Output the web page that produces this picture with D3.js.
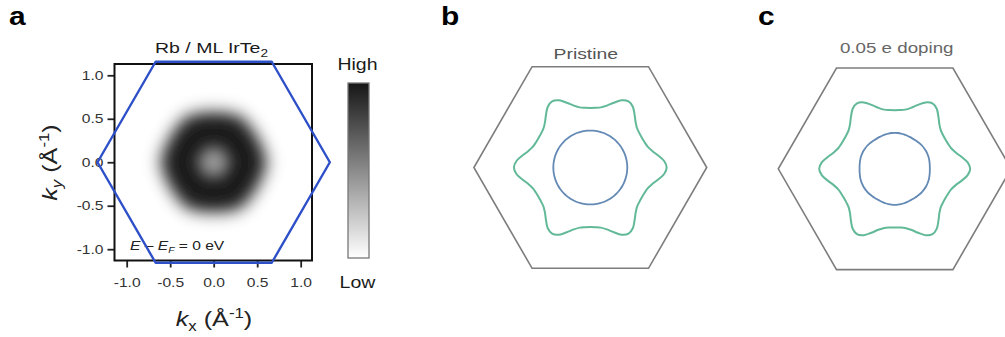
<!DOCTYPE html>
<html>
<head>
<meta charset="utf-8">
<script src="https://cdn.jsdelivr.net/npm/d3@7"></script>
<style>
  body { margin: 0; background: #fff; }
  svg { display: block; }
</style>
</head>
<body>
<svg id="fig"></svg>
<script>
// ---- data ----
const tickValues = [-1.0, -0.5, 0.0, 0.5, 1.0];

// Brillouin zone hexagon (vertex momentum, 1/Å) and vertex angles
const bzVertex = 1.335;
const bzAngles = [0, 60, 120, 180, 240, 300];

// panel a: radial intensity profile of the ARPES map (outer -> inner)
const mapRadius    = [0.78, 0.73, 0.68, 0.63, 0.58, 0.53, 0.48, 0.43, 0.38, 0.33, 0.28, 0.23, 0.18, 0.13, 0.08];
const mapIntensity = [0.02, 0.08, 0.24, 0.50, 0.74, 0.88, 0.95, 0.97, 0.98, 0.97, 0.93, 0.84, 0.70, 0.56, 0.46];
const mapEdgeRatio = 0.965;   // rounded-hexagon: mid-edge / vertex radius

// colour bar
const colorStops = [0, 0.25, 0.5, 0.75, 1];

// panels b, c: Fermi contour radius (1/Å) vs angle from Γ-K, one 30° sector
const sectorAngles  = [0, 5, 10, 15, 20, 25, 30];
const pristineOuter = [0.876, 0.850, 0.790, 0.735, 0.700, 0.687, 0.683];
const pristineInner = [0.424, 0.424, 0.424, 0.424, 0.424, 0.424, 0.424];
const dopedOuter    = [0.866, 0.840, 0.780, 0.724, 0.689, 0.676, 0.672];
const dopedInner    = [0.403, 0.404, 0.406, 0.409, 0.411, 0.412, 0.413];

(() => {
    const width = 1005;
    const height = 337;
    const pxPerK = 87.2;
    const stretch = 1.25;
    const font = "'Liberation Sans', Arial, Helvetica, sans-serif";

    const svg = d3.select("#fig")
        .attr("width", width)
        .attr("height", height);

    svg.append("rect")
        .attr("width", width)
        .attr("height", height)
        .attr("fill", "#fff");

    const defs = svg.append("defs");

    // text is drawn a bit wider than the font, as in the original figure
    function addText(x, y, opts) {
        const o = Object.assign({ size: 14, anchor: "middle", fill: "#222", weight: "normal", rotate: 0, sx: stretch }, opts);
        return svg.append("text")
            .attr("transform", `translate(${x},${y}) rotate(${o.rotate}) scale(${o.sx},1)`)
            .attr("text-anchor", o.anchor)
            .attr("font-family", font)
            .attr("font-size", o.size)
            .attr("font-weight", o.weight)
            .attr("fill", o.fill);
    }

    const toXY = (deg, r) => [r * Math.cos(deg * Math.PI / 180), r * Math.sin(deg * Math.PI / 180)];

    // expand a 30° sector to the full six-fold contour
    function fullContour(radii) {
        const pts = [];
        for (let s = 0; s < 6; s++) {
            sectorAngles.forEach((a, i) => pts.push(toXY(s * 60 + a, radii[i])));
            for (let i = sectorAngles.length - 2; i > 0; i--) {
                pts.push(toXY(s * 60 + 60 - sectorAngles[i], radii[i]));
            }
        }
        return pts;
    }

    const hexPoints = bzAngles.map(a => toXY(a, bzVertex));

    // ================= panel a =================
    const xA = d3.scaleLinear().domain([-1.14, 1.13]).range([114.5, 312]);
    const yA = d3.scaleLinear().domain([-1.13, 1.13]).range([260.5, 64]);
    const color = d3.scaleLinear().domain([0, 1]).range(["#ffffff", "#161616"]);

    defs.append("clipPath").attr("id", "frameClip")
        .append("rect")
        .attr("x", xA.range()[0]).attr("y", yA.range()[1])
        .attr("width", xA.range()[1] - xA.range()[0])
        .attr("height", yA.range()[0] - yA.range()[1]);

    defs.append("filter").attr("id", "mapBlur")
        .attr("x", "-30%").attr("y", "-30%").attr("width", "160%").attr("height", "160%")
        .append("feGaussianBlur").attr("stdDeviation", 4.2);

    const lineA = d3.line().x(d => xA(d[0])).y(d => yA(d[1]));

    const mapG = svg.append("g").attr("clip-path", "url(#frameClip)")
        .append("g").attr("filter", "url(#mapBlur)");

    mapG.selectAll("path")
        .data(mapRadius.map((r, i) => ({ r, v: mapIntensity[i] })))
        .enter()
        .append("path")
        .attr("d", d => lineA.curve(d3.curveCatmullRomClosed)(
            d3.range(12).map(k => toXY(k * 30, d.r * (k % 2 ? mapEdgeRatio : 1)))))
        .attr("fill", d => color(d.v));

    // E - EF label (under the zone boundary)
    const eLab = addText(130, 250, { size: 13, anchor: "start", fill: "#222", sx: 1.2 });
    eLab.append("tspan").attr("font-style", "italic").text("E");
    eLab.append("tspan").text(" \u2013 ");
    eLab.append("tspan").attr("font-style", "italic").text("E");
    eLab.append("tspan").attr("font-style", "italic").attr("font-size", 8.5).attr("dy", 3).text("F");
    eLab.append("tspan").attr("dy", -3).text(" = 0 eV");

    // axes
    const gx = svg.append("g")
        .attr("transform", `translate(0,${yA.range()[0]})`)
        .call(d3.axisBottom(xA).tickValues(tickValues).tickFormat(d => d.toFixed(1))
            .tickSize(7).tickPadding(11).tickSizeOuter(0));
    const gy = svg.append("g")
        .attr("transform", `translate(${xA.range()[0]},0)`)
        .call(d3.axisLeft(yA).tickValues(tickValues).tickFormat(d => d.toFixed(1))
            .tickSize(7).tickPadding(4).tickSizeOuter(0));

    [gx, gy].forEach(g => {
        g.select(".domain").remove();
        g.selectAll(".tick line").attr("stroke", "#222").attr("stroke-width", 1.8);
        g.selectAll(".tick text")
            .attr("font-family", font)
            .attr("font-size", 12.5)
            .attr("fill", "#333")
            .attr("transform", `scale(${stretch},1)`);
    });
    gy.selectAll(".tick text").attr("x", -11 / stretch);

    // frame
    svg.append("rect")
        .attr("x", xA.range()[0]).attr("y", yA.range()[1])
        .attr("width", xA.range()[1] - xA.range()[0])
        .attr("height", yA.range()[0] - yA.range()[1])
        .attr("fill", "none")
        .attr("stroke", "#111")
        .attr("stroke-width", 2);

    // Brillouin zone (blue)
    svg.append("path")
        .attr("d", lineA.curve(d3.curveLinearClosed)(hexPoints))
        .attr("fill", "none")
        .attr("stroke", "#2d50c8")
        .attr("stroke-width", 2.4)
        .attr("stroke-linejoin", "round");

    // title
    const tA = addText(211.5, 53.3, { size: 15, fill: "#1a1a1a", sx: 1.3 });
    tA.append("tspan").text("Rb / ML IrTe");
    tA.append("tspan").attr("font-size", 10.5).attr("dy", 4).text("2");

    // axis labels
    const lx = addText(214, 326, { size: 21, sx: 1.2 });
    lx.append("tspan").attr("font-style", "italic").text("k");
    lx.append("tspan").attr("font-size", 14).attr("dy", 5).text("x");
    lx.append("tspan").attr("dy", -5).text(" (Å");
    lx.append("tspan").attr("font-size", 14).attr("dy", -8).text("-1");
    lx.append("tspan").attr("dy", 8).text(")");

    const ly = addText(57, 162.5, { size: 21, sx: 1.2, rotate: -90 });
    ly.append("tspan").attr("font-style", "italic").text("k");
    ly.append("tspan").attr("font-style", "italic").attr("font-size", 14).attr("dy", 5).text("y");
    ly.append("tspan").attr("dy", -5).text(" (Å");
    ly.append("tspan").attr("font-size", 14).attr("dy", -8).text("-1");
    ly.append("tspan").attr("dy", 8).text(")");

    // colour bar
    const grad = defs.append("linearGradient").attr("id", "cbar")
        .attr("x1", 0).attr("y1", 1).attr("x2", 0).attr("y2", 0);
    grad.selectAll("stop")
        .data(colorStops)
        .enter()
        .append("stop")
        .attr("offset", d => d)
        .attr("stop-color", d => color(d));

    svg.append("rect")
        .attr("x", 348).attr("y", 83)
        .attr("width", 21).attr("height", 175)
        .attr("fill", "url(#cbar)")
        .attr("stroke", "#777")
        .attr("stroke-width", 1.3);

    addText(357.5, 70, { size: 16, fill: "#1a1a1a", sx: 1.22 }).text("High");
    addText(357.5, 287.5, { size: 16, fill: "#1a1a1a", sx: 1.22 }).text("Low");

    // ================= panels b, c =================
    function contourPanel(cx, cy, outer, inner) {
        const x = d3.scaleLinear().domain([-1, 1]).range([cx - pxPerK, cx + pxPerK]);
        const y = d3.scaleLinear().domain([-1, 1]).range([cy + pxPerK, cy - pxPerK]);
        const line = d3.line().x(d => x(d[0])).y(d => y(d[1]));

        svg.append("path")
            .attr("d", line.curve(d3.curveLinearClosed)(hexPoints))
            .attr("fill", "none")
            .attr("stroke", "#7d7d7d")
            .attr("stroke-width", 1.6);

        svg.append("path")
            .attr("d", line.curve(d3.curveCatmullRomClosed)(fullContour(outer)))
            .attr("fill", "none")
            .attr("stroke", "#62b998")
            .attr("stroke-width", 2);

        svg.append("path")
            .attr("d", line.curve(d3.curveCatmullRomClosed)(fullContour(inner)))
            .attr("fill", "none")
            .attr("stroke", "#6389b5")
            .attr("stroke-width", 1.8);
    }

    contourPanel(590.3, 167.5, pristineOuter, pristineInner);
    contourPanel(894.7, 168.8, dopedOuter, dopedInner);

    addText(585.8, 59, { size: 15.5, fill: "#555" }).text("Pristine");
    addText(896.7, 53.3, { size: 15, fill: "#666" }).text("0.05 e doping");

    // panel letters
    addText(9, 25, { size: 26, weight: "bold", anchor: "start", fill: "#000", sx: 1.15 }).text("a");
    addText(441, 25, { size: 26, weight: "bold", anchor: "start", fill: "#000", sx: 1.15 }).text("b");
    addText(758, 25, { size: 26, weight: "bold", anchor: "start", fill: "#000", sx: 1.15 }).text("c");
})();
</script>
</body>
</html>
